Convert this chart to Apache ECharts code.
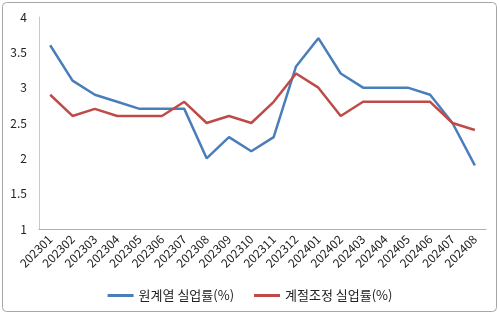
<!DOCTYPE html>
<html><head><meta charset="utf-8">
<script src="https://cdn.jsdelivr.net/npm/echarts@6/dist/echarts.min.js"></script>
<style>html,body{margin:0;padding:0;background:#fff}#c{width:500px;height:315px}</style>
</head><body><div id="c"></div>
<script>
const categories = ['202301','202302','202303','202304','202305','202306','202307','202308','202309','202310','202311','202312','202401','202402','202403','202404','202405','202406','202407','202408'];
const rawRate = [3.6,3.1,2.9,2.8,2.7,2.7,2.7,2.0,2.3,2.1,2.3,3.3,3.7,3.2,3.0,3.0,3.0,2.9,2.5,1.9];
const adjRate = [2.9,2.6,2.7,2.6,2.6,2.6,2.8,2.5,2.6,2.5,2.8,3.2,3.0,2.6,2.8,2.8,2.8,2.8,2.5,2.4];
const seriesNames = ['원계열 실업률(%)','계절조정 실업률(%)'];
const font = '"Noto Sans CJK KR", "Noto Sans", sans-serif';
const chart = echarts.init(document.getElementById('c'));
chart.setOption({
  animation:false,
  graphic:[{type:'rect',shape:{x:2.5,y:2.5,width:494,height:309,r:4},style:{fill:'none',stroke:'#a6a6a6',lineWidth:1}}],
  grid:{left:39,right:14,top:17,bottom:86,containLabel:false},
  legend:{bottom:8,left:'center',itemWidth:26,itemHeight:3,itemGap:20,icon:'rect',
    textStyle:{fontFamily:font,fontSize:13,color:'#222'},data:seriesNames},
  xAxis:{type:'category',data:categories,boundaryGap:true,
    axisLine:{lineStyle:{color:'#b0b0b0'}},axisTick:{show:false},
    axisLabel:{rotate:45,fontFamily:font,fontSize:12,color:'#222',margin:8,interval:0}},
  yAxis:{type:'value',min:1,max:4,interval:0.5,
    axisLine:{show:true,lineStyle:{color:'#c8c8c8'}},axisTick:{show:false},splitLine:{show:false},
    axisLabel:{fontFamily:font,fontSize:12,color:'#222',margin:12}},
  series:[
    {name:seriesNames[0],type:'line',data:rawRate,symbol:'none',lineStyle:{width:2.5,color:'#4a7ebb'},itemStyle:{color:'#4a7ebb'}},
    {name:seriesNames[1],type:'line',data:adjRate,symbol:'none',lineStyle:{width:2.5,color:'#be4b48'},itemStyle:{color:'#be4b48'}}
  ]
});
</script></body></html>
